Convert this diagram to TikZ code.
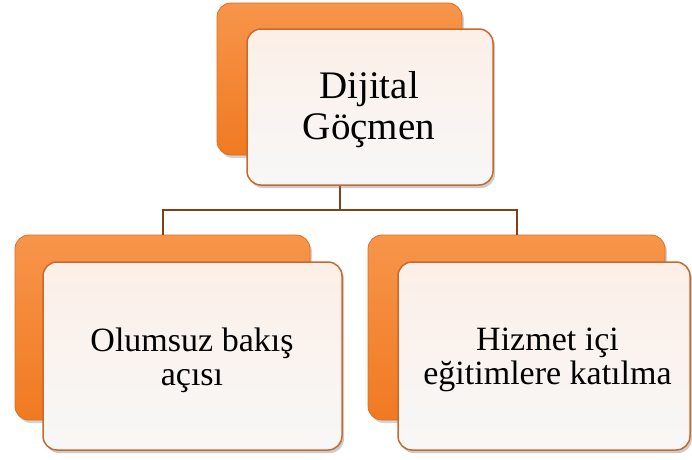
\documentclass[tikz,border=0pt]{standalone}
\usepackage{fontspec}
\setmainfont{Liberation Serif}
\usetikzlibrary{shadows}
\definecolor{orangeA}{HTML}{F7954A}
\definecolor{orangeM}{HTML}{F5822A}
\definecolor{orangeB}{HTML}{F07A22}
\definecolor{edgeO}{HTML}{E06E1C}
\definecolor{edgeF}{HTML}{C8692E}
\definecolor{paleF}{HTML}{FCEFE7}
\definecolor{linkB}{HTML}{7E4218}
\begin{document}
\begin{tikzpicture}[x=1pt,y=-1pt,
  backbox/.style={rectangle, rounded corners=14pt, draw=edgeO, line width=0.8pt,
    top color=orangeA, middle color=orangeM, bottom color=orangeB, inner sep=0pt,
    drop shadow={opacity=0.35, shadow xshift=2pt, shadow yshift=-3pt}},
  frontbox/.style={rectangle, rounded corners=14pt, draw=edgeF, line width=1.5pt,
    top color=paleF, middle color=paleF, bottom color=white!94!gray, inner sep=0pt,
    drop shadow={opacity=0.4, shadow xshift=2pt, shadow yshift=-3pt}},
  toptext/.style={inner sep=0pt, align=center, font=\fontsize{39}{41}\selectfont},
  subtext/.style={inner sep=0pt, align=center, font=\fontsize{34}{34}\selectfont},
  link/.style={draw=linkB, line width=2pt}]
\useasboundingbox[fill=white] (0,0) rectangle (692,459);
% back boxes
\node[backbox, minimum width=245pt, minimum height=152pt] (tb) at (339.5,79) {};
\node[backbox, minimum width=295pt, minimum height=185pt] (lb) at (162.5,327.5) {};
\node[backbox, minimum width=297pt, minimum height=185pt] (rb) at (516.5,327.5) {};
% connectors
\coordinate (hub) at (339.5,210);
\draw[link] (tb.south) -- (hub) -| (lb.north);
\draw[link] (hub) -| (rb.north);
% front boxes
\node[frontbox, minimum width=246pt, minimum height=156pt] (tf) at (370,107) {};
\node[frontbox, minimum width=299pt, minimum height=188pt] (lf) at (192.5,356) {};
\node[frontbox, minimum width=292pt, minimum height=188pt] (rf) at (544,356) {};
% texts
\node[toptext] (t1) at (369,110) {Dijital\\Göçmen};
\node[subtext] (t2) at (192,360) {Olumsuz bakış\\açısı};
\node[subtext] (t3) at (547.5,360) {Hizmet içi\\eğitimlere katılma};
\end{tikzpicture}
\end{document}
